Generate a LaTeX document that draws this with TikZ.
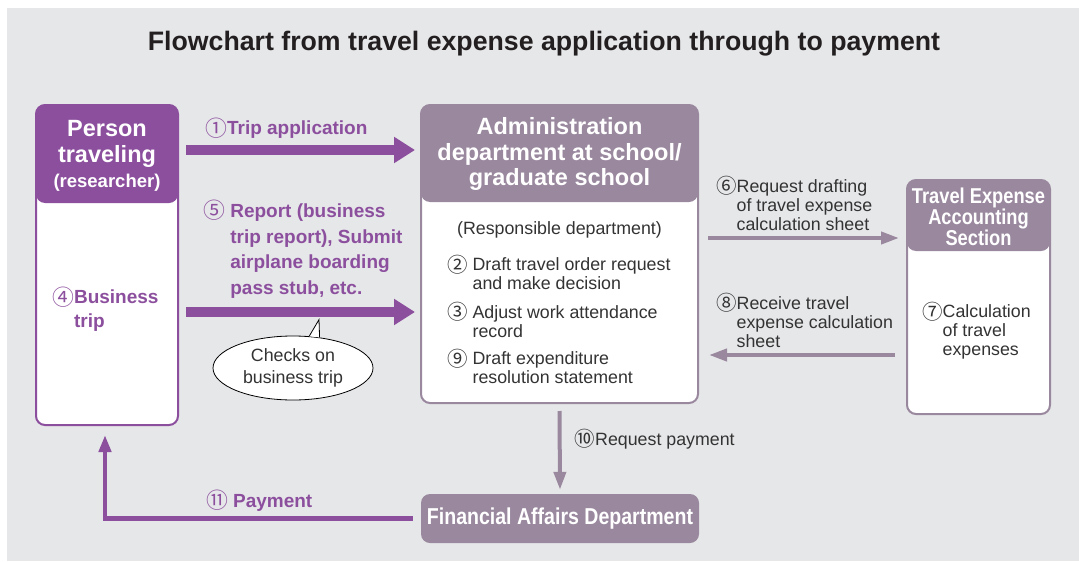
\documentclass[tikz,border=0pt]{standalone}
\usepackage{fontspec}
\setmainfont{Liberation Sans}
\newfontfamily\narrowfont[FakeStretch=0.85]{Liberation Sans}
\newfontfamily\circfont{Noto Sans CJK JP}
\usetikzlibrary{arrows.meta,shapes.geometric,positioning}

\definecolor{bggrey}{HTML}{E6E7E9}
\definecolor{purp}{HTML}{8C4F9E}
\definecolor{mauve}{HTML}{9A889F}
\definecolor{inkgrey}{HTML}{333333}
\definecolor{titleink}{HTML}{231F20}

% circled step numbers and the matching indent
\newcommand{\cn}[1]{{\circfont\mdseries\smash{\raisebox{-0.07em}{\scalebox{1.15}{#1}}}}}
\newcommand{\hang}[1]{\phantom{\cn{#1}}}

\begin{document}
\begin{tikzpicture}[x=1pt,y=-1pt,
  panel/.style n args={4}{draw=#1, fill=white, line width=2pt, rounded corners=9pt,
    minimum width=#2, minimum height=#3, inner sep=0pt,
    path picture={\fill[#1] (path picture bounding box.north west) rectangle ([yshift=-#4]path picture bounding box.north east);}},
  finbox/.style={fill=mauve, rounded corners=9pt, minimum width=278pt, minimum height=49pt,
    inner sep=0pt, text=white, font=\narrowfont\fontsize{23}{26}\selectfont\bfseries},
  headtext/.style={text=white, align=center, inner sep=0pt, font=\fontsize{23.5}{25.5}\selectfont\bfseries},
  bodytext/.style={text=inkgrey, align=left, inner sep=0pt, anchor=west, font=\fontsize{17.8}{18.8}\selectfont},
  steplabel/.style={text=purp, align=left, inner sep=0pt, anchor=west, font=\fontsize{19}{25.5}\selectfont\bfseries},
  bubble/.style={ellipse, draw=black, line width=0.8pt, fill=white, minimum width=160pt, minimum height=64pt,
    inner sep=0pt, align=center, text=inkgrey, font=\fontsize{17.8}{22}\selectfont},
  bigarrow/.style={purp, line width=10pt, -{Triangle[length=21pt,width=25pt]}},
  midarrow/.style={mauve, line width=4pt, -{Triangle[length=18pt,width=12pt]}},
  payarrow/.style={purp, line width=4.5pt, -{Triangle[length=17pt,width=12pt]}},
]
\useasboundingbox (0,0) rectangle (1079,562);
\fill[bggrey] (7,8) rectangle (1079,561);

\node[text=titleink, inner sep=0pt, font=\fontsize{26.7}{30}\selectfont\bfseries] (title) at (544,44)
  {Flowchart from travel expense application through to payment};

% the four offices
\node[panel={purp}{142pt}{320pt}{98pt}] (person) at (107,265) {};
\node[panel={mauve}{277pt}{298pt}{97pt}] (admin) at (559.5,254) {};
\node[panel={mauve}{143pt}{234pt}{71pt}] (travel) at (978.5,297) {};
\node[finbox] (fin) at (560,518.5) {Financial Affairs Department};

\node[headtext] (personhead) at ([yshift=-52pt]person.north)
  {Person\\traveling\\{\fontsize{18.5}{20}\selectfont (researcher)}};
\node[headtext] (adminhead) at ([yshift=-50pt]admin.north)
  {Administration\\department at school/\\graduate school};
\node[headtext, font=\narrowfont\fontsize{21.5}{21}\selectfont\bfseries] (travelhead)
  at ([yshift=-38pt]travel.north) {Travel Expense\\Accounting\\Section};

\node[steplabel, font=\fontsize{19}{24}\selectfont\bfseries] (trip) at ([xshift=17pt,yshift=-207pt]person.north west)
  {\cn{④}Business\\\hang{④}trip};

\node[bodytext, anchor=center] (resp) at ([yshift=-126pt]admin.north) {(Responsible department)};
\node[bodytext] (task2) at ([xshift=27pt,yshift=-170pt]admin.north west)
  {\cn{②} Draft travel order request\\\hang{②} and make decision};
\node[bodytext] (task3) at ([xshift=27pt,yshift=-217.5pt]admin.north west)
  {\cn{③} Adjust work attendance\\\hang{③} record};
\node[bodytext] (task9) at ([xshift=27pt,yshift=-264pt]admin.north west)
  {\cn{⑨} Draft expenditure\\\hang{⑨} resolution statement};
\node[bodytext] (calc) at ([xshift=16pt,yshift=-153pt]travel.north west)
  {\cn{⑦}Calculation\\\hang{⑦}of travel\\\hang{⑦}expenses};

% connectors
\draw[bigarrow] ([xshift=7pt,yshift=-46pt]person.north east) -- ([xshift=-5pt,yshift=-46pt]admin.north west);
\draw[bigarrow] ([xshift=7pt,yshift=-208pt]person.north east) -- ([xshift=-5pt,yshift=-208pt]admin.north west);
\draw[midarrow] ([xshift=9pt,yshift=-134pt]admin.north east) coordinate (a6) -- ([xshift=-7pt]a6 -| travel.west);
\draw[midarrow] ([xshift=-11pt,yshift=-58pt]travel.west) coordinate (a8) -- ([xshift=10pt]a8 -| admin.east);
\draw[midarrow] ([yshift=-7pt]admin.south) -- ([yshift=4pt]fin.north);
\draw[payarrow] ([xshift=-8pt]fin.west) -| ([xshift=-2pt,yshift=-9pt]person.south);

\node[steplabel] (lab1) at ([xshift=26pt,yshift=-26pt]person.north east) {\cn{①}Trip application};
\node[steplabel] (lab5) at ([xshift=24pt,yshift=-147pt]person.north east)
  {\cn{⑤} Report (business\\\hang{⑤} trip report), Submit\\\hang{⑤} airplane boarding\\\hang{⑤} pass stub, etc.};
\node[bodytext] (lab6) at ([xshift=17pt,yshift=-101pt]admin.north east)
  {\cn{⑥}Request drafting\\\hang{⑥}of travel expense\\\hang{⑥}calculation sheet};
\node[bodytext] (lab8) at ([xshift=17pt,yshift=-218pt]admin.north east)
  {\cn{⑧}Receive travel\\\hang{⑧}expense calculation\\\hang{⑧}sheet};
\node[bodytext] (lab10) at ([xshift=15pt,yshift=-37pt]admin.south) {\cn{⑩}Request payment};
\node[steplabel] (lab11) at ([xshift=-215pt,yshift=15.5pt]fin.west) {\cn{⑪} Payment};

% speech bubble on the report arrow
\node[bubble] (check) at (293,368) {Checks on\\business trip};
\fill[white] (check.63) -- ([xshift=26pt,yshift=16pt]check.north) -- (check.49) -- cycle;
\draw[line width=0.8pt] (check.63) -- ([xshift=26pt,yshift=16pt]check.north) -- (check.49);
\end{tikzpicture}
\end{document}
